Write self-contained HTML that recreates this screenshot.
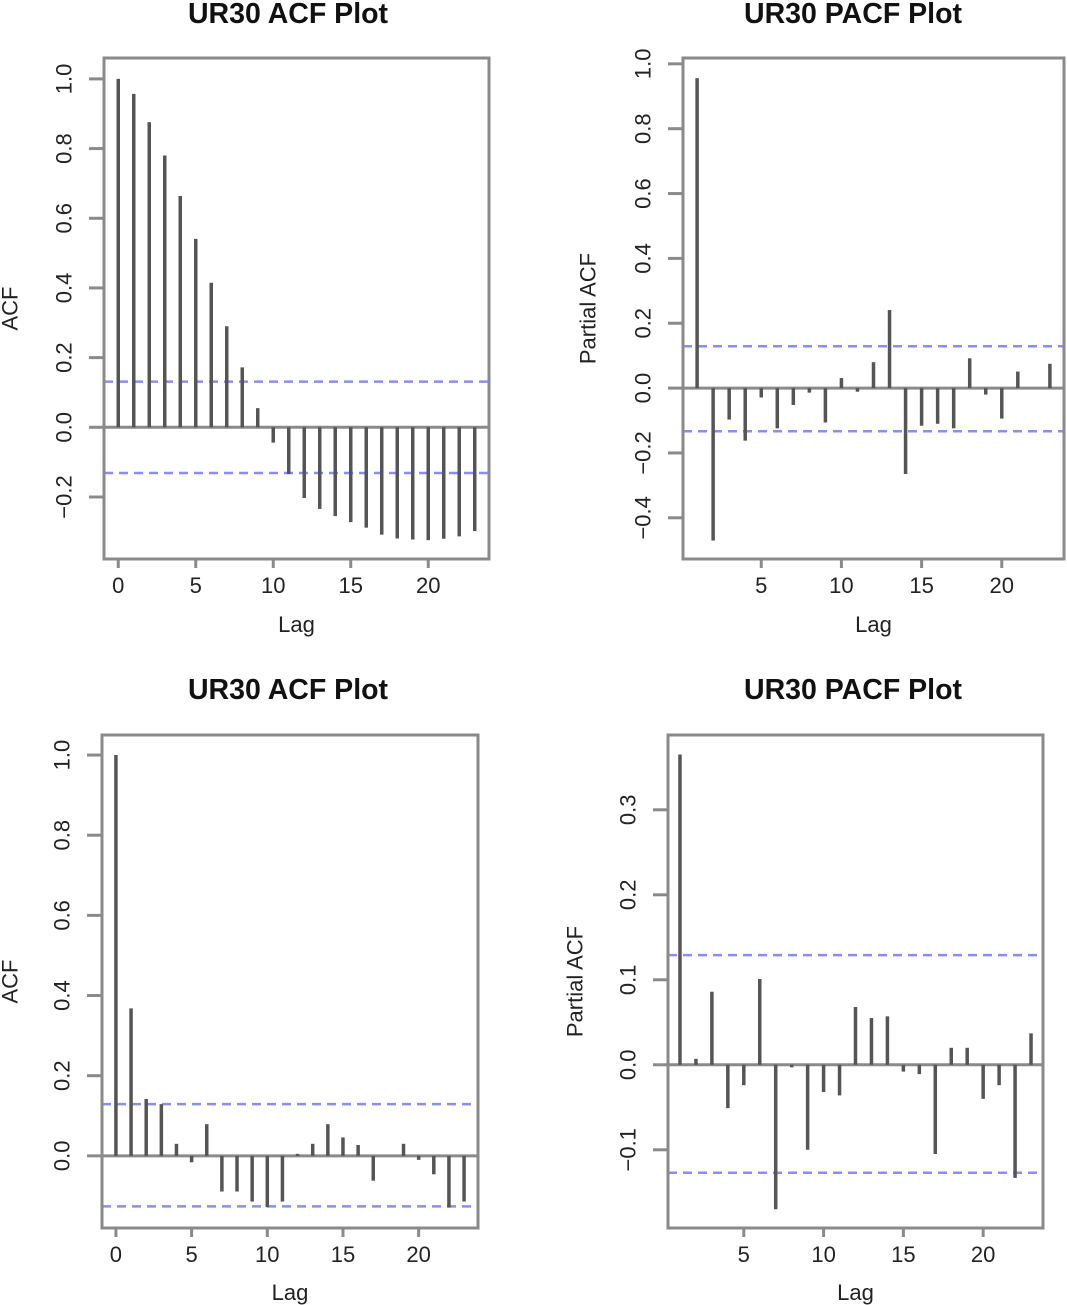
<!DOCTYPE html>
<html><head><meta charset="utf-8">
<style>
html,body{margin:0;padding:0;background:#fff;}
svg{display:block;font-family:"Liberation Sans",Arial,sans-serif;}
</style></head>
<body>
<svg id="fig" width="1067" height="1305" viewBox="0 0 1067 1305" xmlns="http://www.w3.org/2000/svg"></svg>
<script>
// ---- Data ----
const acf1Lags = [0,1,2,3,4,5,6,7,8,9,10,11,12,13,14,15,16,17,18,19,20,21,22,23];
const acf1Values = [1.0,0.957,0.876,0.78,0.664,0.541,0.415,0.29,0.172,0.055,-0.044,-0.134,-0.203,-0.234,-0.255,-0.272,-0.288,-0.308,-0.319,-0.322,-0.324,-0.32,-0.313,-0.298];
const acf1Ticks = ["-0.2","0.0","0.2","0.4","0.6","0.8","1.0"];
const pacf1Lags = [1,2,3,4,5,6,7,8,9,10,11,12,13,14,15,16,17,18,19,20,21,22,23];
const pacf1Values = [0.956,-0.47,-0.097,-0.162,-0.029,-0.124,-0.052,-0.014,-0.106,0.031,-0.011,0.08,0.241,-0.265,-0.116,-0.11,-0.124,0.092,-0.02,-0.094,0.051,0.0,0.075];
const pacf1Ticks = ["-0.4","-0.2","0.0","0.2","0.4","0.6","0.8","1.0"];
const acf2Lags = [0,1,2,3,4,5,6,7,8,9,10,11,12,13,14,15,16,17,18,19,20,21,22,23];
const acf2Values = [1.0,0.368,0.142,0.129,0.03,-0.016,0.079,-0.089,-0.089,-0.114,-0.128,-0.114,0.005,0.03,0.079,0.046,0.027,-0.062,0.0,0.03,-0.01,-0.046,-0.129,-0.114];
const acf2Ticks = ["0.0","0.2","0.4","0.6","0.8","1.0"];
const pacf2Lags = [1,2,3,4,5,6,7,8,9,10,11,12,13,14,15,16,17,18,19,20,21,22,23];
const pacf2Values = [0.365,0.007,0.086,-0.051,-0.024,0.101,-0.17,-0.003,-0.1,-0.032,-0.036,0.068,0.055,0.057,-0.008,-0.011,-0.105,0.02,0.02,-0.04,-0.024,-0.133,0.037];
const pacf2Ticks = ["-0.1","0.0","0.1","0.2","0.3"];
const xTicks1 = ["0","5","10","15","20"];
const xTicks2 = ["5","10","15","20"];
const ci1 = [0.131,-0.131];
const ci2 = [0.129,-0.133];
const ci3 = [0.129,-0.126];
const ci4 = [0.129,-0.127];

const NS = "http://www.w3.org/2000/svg";
const svg = document.getElementById('fig');
function mk(tag, attrs, parent){
  const e = document.createElementNS(NS, tag);
  for (const k in attrs) e.setAttribute(k, attrs[k]);
  (parent||svg).appendChild(e);
  return e;
}

function panel(cfg){
  const g = mk('g', {});
  
  
  const L=cfg.box[0], T=cfg.box[1], R=cfg.box[2], B=cfg.box[3];
  const xs = v => L + (v - cfg.xlim[0]) / (cfg.xlim[1]-cfg.xlim[0]) * (R-L);
  const ys = v => B - (v - cfg.ylim[0]) / (cfg.ylim[1]-cfg.ylim[0]) * (B-T);
  const t = mk('text', {x:cfg.titleX, y:cfg.titleY, 'text-anchor':'middle', 'font-size':28.5, 'font-weight':'bold', fill:'#111'}, g);
  t.textContent = cfg.title;
  
  
  const z = mk('line', {x1:L, x2:R, y1:ys(0), y2:ys(0), stroke:'#8a8a8a', 'stroke-width':3}, g);
  
  
  cfg.ci.forEach(c => {
    const l = mk('line', {x1:L, x2:R, y1:ys(c), y2:ys(c), stroke:'#8c8cf5', 'stroke-width':2.5, 'stroke-dasharray':'9 6'}, g);
    
    
  });
  cfg.lags.forEach((lag,i) => {
    const v = cfg.values[i];
    const b = mk('line', {x1:xs(lag), x2:xs(lag), y1:ys(0), y2:ys(v), stroke:'#555', 'stroke-width':3.5}, g);
    
    
  });
  const bx = mk('rect', {x:L, y:T, width:R-L, height:B-T, fill:'none', stroke:'#8a8a8a', 'stroke-width':3}, g);
  
  
  cfg.yTicks.forEach(s => {
    const v = parseFloat(s), y = ys(v);
    const tk = mk('line', {x1:L-15, x2:L, y1:y, y2:y, stroke:'#8a8a8a', 'stroke-width':3}, g);
    
    
    const lx = L-40;
    const lb = mk('text', {x:lx, y:y, 'text-anchor':'middle', 'dominant-baseline':'central', 'font-size':22, fill:'#222', transform:`rotate(-90 ${lx} ${y})`}, g);
    lb.textContent = s.replace('-', '\u2212');
    
    
  });
  cfg.xTicks.forEach(s => {
    const x = xs(parseFloat(s));
    const tk = mk('line', {x1:x, x2:x, y1:B, y2:B+9, stroke:'#8a8a8a', 'stroke-width':3}, g);
    
    
    const lb = mk('text', {x:x, y:B+34, 'text-anchor':'middle', 'font-size':22, fill:'#222'}, g);
    lb.textContent = s;
    
    
  });
  const xl = mk('text', {x:(L+R)/2, y:B+cfg.lagDy, 'text-anchor':'middle', 'font-size':22, fill:'#222'}, g);
  xl.textContent = 'Lag';
  
  
  const yx = cfg.yTitleX, yy = (T+B)/2;
  const yl = mk('text', {x:yx, y:yy, 'text-anchor':'middle', 'dominant-baseline':'central', 'font-size':22, fill:'#222', transform:`rotate(-90 ${yx} ${yy})`}, g);
  yl.textContent = cfg.yTitle;
  
  
}

panel({name:'acf-plot-top', title:'UR30 ACF Plot', titleX:288, titleY:23, box:[104,58,489,559], xlim:[-0.92,23.92], ylim:[-0.378,1.06],
  lags:acf1Lags, values:acf1Values, yTicks:acf1Ticks, xTicks:xTicks1, ci:ci1, yTitle:'ACF', yTitleX:10, lagDy:73});
panel({name:'pacf-plot-top', title:'UR30 PACF Plot', titleX:853, titleY:23, box:[683,58,1064,559], xlim:[0.12,23.88], ylim:[-0.527,1.018],
  lags:pacf1Lags, values:pacf1Values, yTicks:pacf1Ticks, xTicks:xTicks2, ci:ci2, yTitle:'Partial ACF', yTitleX:588, lagDy:73});
panel({name:'acf-plot-bottom', title:'UR30 ACF Plot', titleX:288, titleY:699, box:[102,735,478,1228], xlim:[-0.92,23.92], ylim:[-0.18,1.05],
  lags:acf2Lags, values:acf2Values, yTicks:acf2Ticks, xTicks:xTicks1, ci:ci3, yTitle:'ACF', yTitleX:10, lagDy:72});
panel({name:'pacf-plot-bottom', title:'UR30 PACF Plot', titleX:853, titleY:699, box:[668,735,1043,1228], xlim:[0.25,23.75], ylim:[-0.192,0.388],
  lags:pacf2Lags, values:pacf2Values, yTicks:pacf2Ticks, xTicks:xTicks2, ci:ci4, yTitle:'Partial ACF', yTitleX:575, lagDy:72});
</script>
</body></html>
